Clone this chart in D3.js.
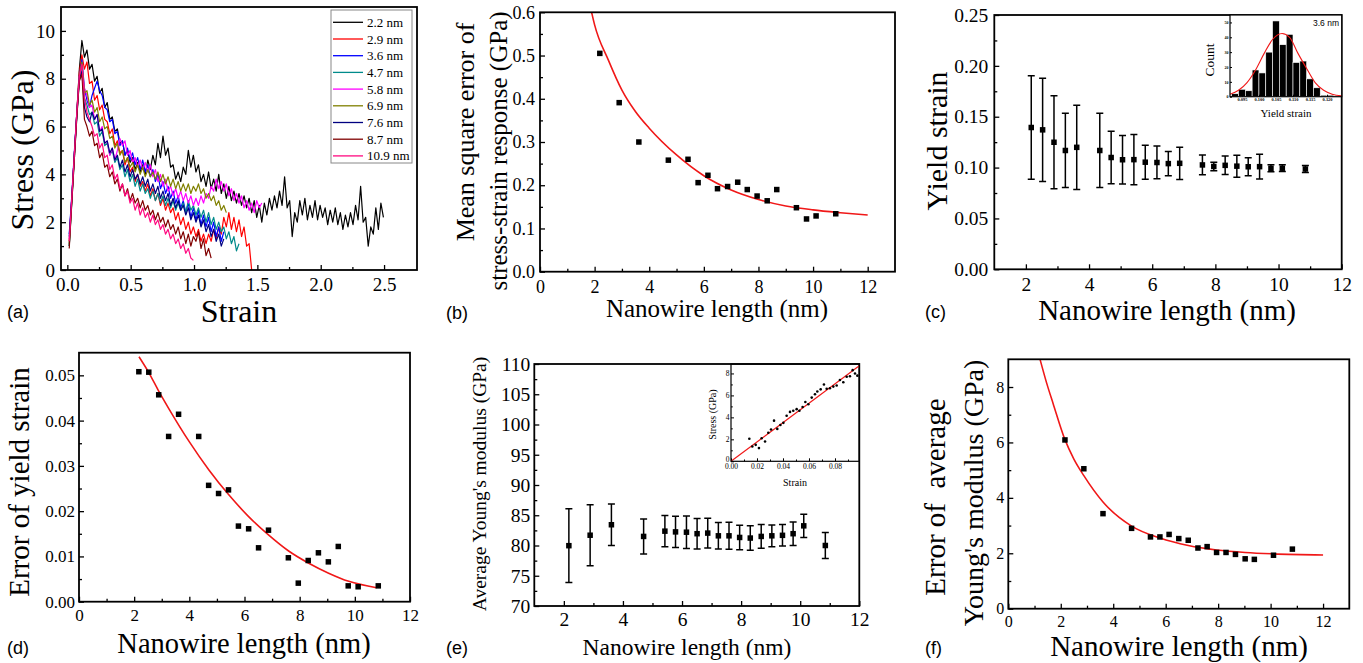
<!DOCTYPE html>
<html><head><meta charset="utf-8">
<script src="https://cdn.jsdelivr.net/npm/d3@7"></script>
<style>body{margin:0;background:#fff} text{font-family:"Liberation Serif","DejaVu Serif",serif}</style></head>
<body>
<script>
// ---------------- DATA ----------------
// (a) stress-strain curves, stress (GPa) sampled every strainStep from strainStart
const strainStart = 0.015, strainStep = 0.02;
const curveLabels = ["2.2 nm","2.9 nm","3.6 nm","4.7 nm","5.8 nm","6.9 nm","7.6 nm","8.7 nm","10.9 nm"];
const curveColors = ["#000000","#ff0000","#0000ff","#008b8b","#ff00ff","#808000","#000080","#800000","#ff0a80"];
const stress22 = [1.0,2.9,4.8,6.6,8.4,9.6,8.9,9.2,8.4,8.6,7.9,8.1,7.4,7.6,6.8,7.0,6.3,6.4,5.8,5.9,5.3,5.4,4.8,5.0,4.5,4.7,4.2,4.5,4.1,4.4,4.0,4.6,4.2,4.8,4.4,5.3,4.7,5.6,4.8,5.1,4.3,4.4,3.8,4.1,3.7,4.3,4.0,5.0,4.3,4.8,4.1,4.4,3.7,4.0,3.5,4.1,3.4,3.8,3.3,4.0,3.2,3.6,3.0,3.5,2.9,3.3,2.8,3.2,2.7,3.1,2.6,3.0,2.4,2.9,2.2,2.7,2.0,2.8,2.3,3.0,2.5,3.1,2.6,3.3,2.7,3.9,2.6,2.9,1.4,2.4,2.0,2.9,2.3,3.0,2.1,2.7,2.2,2.9,2.1,2.7,2.2,2.6,1.9,2.5,2.0,2.6,1.9,2.4,1.7,2.3,1.8,2.4,1.9,2.7,2.1,3.5,2.0,2.2,1.0,1.8,1.5,2.6,1.7,2.8,2.2];
const stress29 = [1.2,3.0,4.8,6.6,8.3,9.0,8.4,8.7,7.8,7.9,7.1,7.3,6.7,6.9,6.3,6.2,5.7,5.9,5.2,5.4,4.9,5.0,4.4,4.7,4.1,4.3,3.7,4.0,3.5,3.7,3.3,3.6,3.1,3.4,2.9,3.2,2.7,3.0,2.5,2.8,2.4,2.6,2.1,2.4,1.9,2.2,1.7,2.0,1.5,1.8,1.4,1.7,1.2,1.5,1.1,1.5,1.2,1.7,1.3,1.8,1.5,2.2,1.8,2.4,1.7,2.2,1.6,2.1,1.4,1.8,1.0,1.1,0.0];
const stress36 = [1.5,3.1,4.9,6.6,8.1,8.8,7.6,7.1,6.8,7.3,7.6,7.9,7.5,7.3,6.8,6.7,6.2,6.3,5.7,5.8,5.2,5.4,4.8,5.1,4.6,4.9,4.4,4.7,4.2,4.6,4.1,4.4,3.9,4.2,3.7,4.0,3.4,3.7,3.2,3.5,3.0,3.3,2.8,3.1,2.6,2.9,2.4,2.8,2.2,2.6,2.1,2.5,1.9,2.3,1.8,2.2,1.6,2.0,1.4,1.8,1.2,1.6];
const stress47 = [1.0,2.8,4.6,6.4,8.0,8.5,7.2,6.9,6.5,6.6,6.1,6.2,5.6,5.8,5.2,5.3,4.8,5.0,4.5,4.7,4.2,4.4,3.9,4.2,3.7,4.0,3.5,3.8,3.3,3.6,3.2,3.4,3.0,3.3,2.9,3.2,2.8,3.1,2.7,3.0,2.6,2.9,2.5,2.8,2.5,2.8,2.4,2.9,2.5,2.7,2.3,2.6,2.2,2.5,2.0,2.4,1.9,2.2,1.7,2.0,1.6,1.8,1.3,1.6,1.1,1.4,0.8,1.1];
const stress58 = [1.3,3.0,4.7,6.5,8.1,8.6,7.6,7.3,6.8,6.9,6.3,6.5,5.8,6.0,5.3,5.4,4.8,5.1,4.6,5.0,5.5,5.2,5.4,4.8,5.0,4.5,4.7,4.3,4.6,4.2,4.5,4.1,4.4,3.9,4.2,3.7,4.0,3.5,3.8,3.3,3.5,3.1,3.4,3.0,3.3,2.9,3.2,2.8,3.1,2.7,3.0,2.7,3.1,2.8,3.2,3.0,3.5,3.3,3.8,3.4,3.7,3.3,3.6,3.1,3.4,2.9,3.2,2.8,3.1,2.6,2.9,2.5,2.8,2.4,2.9,2.6,2.8];
const stress69 = [1.1,2.9,4.7,6.5,8.1,8.7,7.4,7.5,6.9,7.1,6.6,6.8,6.2,6.4,5.9,6.0,5.5,5.6,5.1,5.3,4.8,5.0,4.5,4.7,4.3,4.5,4.1,4.4,4.0,4.3,3.9,4.2,3.9,4.1,3.8,4.1,3.7,4.0,3.6,3.9,3.5,3.8,3.4,3.7,3.3,3.6,3.3,3.6,3.2,3.5,3.3,3.6,3.2,3.4,3.0,3.2,2.9,3.1,2.7,2.9,2.5,2.7,2.4];
const stress76 = [1.4,3.0,4.8,6.5,8.0,8.3,6.8,6.4,6.2,6.6,6.3,6.5,5.8,5.9,5.3,5.4,4.9,5.1,4.6,4.8,4.3,4.6,4.1,4.4,3.9,4.2,3.8,4.0,3.6,3.9,3.5,3.8,3.3,3.6,3.2,3.5,3.0,3.3,2.9,3.2,2.7,3.0,2.6,2.9,2.5,2.7,2.3,2.6,2.1,2.4,2.0,2.3,1.8,2.1,1.6,1.9,1.4,1.7,1.2,1.5,1.0,1.3];
const stress87 = [0.9,2.8,4.6,6.4,7.9,8.2,6.3,6.0,5.6,5.8,5.2,5.3,4.7,4.9,4.3,4.4,3.9,4.1,3.6,3.8,3.3,3.6,3.1,3.4,2.9,3.2,2.8,3.0,2.6,2.9,2.5,2.7,2.3,2.5,2.1,2.4,2.0,2.2,1.8,2.1,1.7,1.9,1.5,1.8,1.3,1.6,1.1,1.5,1.0,1.4,1.2,1.6,0.9,1.3,0.6,0.9,0.5];
const stress109 = [1.2,3.0,4.8,6.6,8.1,8.6,7.2,6.6,6.3,6.0,5.6,5.7,5.1,5.3,4.7,4.8,4.2,4.4,3.8,4.0,3.4,3.6,3.1,3.3,2.8,3.0,2.5,2.8,2.3,2.6,2.2,2.4,2.0,2.3,1.9,2.1,1.7,1.9,1.5,1.7,1.3,1.5,1.1,1.3,0.9,1.1,0.7,0.9,0.5,0.4];
const stressSeries = [stress22,stress29,stress36,stress47,stress58,stress69,stress76,stress87,stress109];

// (b) mean square error of stress-strain response
const bLen = [2.19,2.90,3.62,4.70,5.42,5.79,6.15,6.50,6.87,7.24,7.59,7.95,8.32,8.67,9.39,9.76,10.11,10.83];
const bMSE = [0.505,0.391,0.300,0.258,0.260,0.206,0.223,0.192,0.197,0.207,0.190,0.175,0.164,0.190,0.148,0.122,0.129,0.134];
const bFitLen = [1.89,2,2.5,3,3.5,4,5,6,7,8,9,10,11,12];
const bFitVal = [0.600,0.571,0.490,0.420,0.370,0.332,0.270,0.222,0.189,0.167,0.152,0.143,0.1365,0.131];

// (c)/(d) yield strain and its error
const cdLen = [2.17,2.53,2.89,3.25,3.61,4.34,4.70,5.06,5.42,5.78,6.15,6.51,6.87,7.59,7.95,8.31,8.68,9.04,9.40,9.76,10.12,10.85];
const yieldStrain = [0.1394,0.1371,0.1249,0.1168,0.1199,0.1168,0.1099,0.1077,0.1078,0.1053,0.1050,0.1039,0.1042,0.1026,0.1011,0.1022,0.1014,0.1008,0.1009,0.0993,0.0994,0.0986];
const yieldErr = [0.0508,0.0507,0.0457,0.0365,0.0414,0.0365,0.0257,0.0239,0.0247,0.0167,0.0161,0.0119,0.0158,0.0097,0.0041,0.0091,0.0108,0.0088,0.0122,0.0035,0.0033,0.0035];
const dFitLen = [2.175,2.54,2.9,3.26,3.99,4.71,5.43,6.15,6.88,7.6,8.33,9.05,9.78,10.79];
const dFitVal = [0.0541,0.0505,0.0464,0.0426,0.0354,0.0291,0.0236,0.0188,0.0147,0.0112,0.0085,0.0063,0.0045,0.0031];

// (c) inset histogram (3.6 nm)
const histCenters = [0.093,0.095,0.097,0.099,0.101,0.103,0.105,0.107,0.109,0.111,0.113,0.115,0.117,0.119,0.121];
const histCounts = [2,5,4,18,16,30,51,35,42,23,24,12,6,1,1];
const histFitX = [0.0915,0.094,0.0965,0.099,0.1015,0.104,0.1068,0.109,0.1115,0.114,0.1165,0.119,0.1215,0.1243];
const histFitY = [1.7,4.3,9.5,18,29,38.5,42.5,40,29,19,9.5,4.3,1.7,0.6];
const histXTicks = [0.095,0.100,0.105,0.110,0.115,0.120];
const histYTicks = [0,10,20,30,40,50];

// (e) average Young's modulus
const eLen = [2.17,2.89,3.61,4.70,5.42,5.78,6.15,6.51,6.87,7.23,7.59,7.95,8.31,8.68,9.04,9.40,9.76,10.12,10.85];
const eMod = [79.97,81.7,83.43,81.5,82.37,82.25,82.2,81.95,82.05,81.6,81.6,81.33,81.23,81.5,81.6,81.68,81.95,83.25,80.0];
const eErr = [6.09,5.05,3.43,2.90,2.59,2.59,2.68,2.53,2.47,2.19,2.24,2.03,2.03,1.96,1.80,1.78,1.95,1.93,2.15];
// (e) inset elastic stress-strain
const insStrain = [0.0141,0.0164,0.0190,0.0215,0.0236,0.0262,0.0287,0.0308,0.0331,0.0356,0.0380,0.0403,0.0428,0.0454,0.0479,0.0505,0.0526,0.0551,0.0572,0.0595,0.0621,0.0646,0.0664,0.0690,0.0715,0.0736,0.0761,0.0787,0.0813,0.0838,0.0864,0.0890,0.0915,0.0936,0.0954,0.0972];
const insStress = [2.05,1.35,1.5,1.2,2.1,1.8,2.6,2.9,3.7,2.95,3.3,3.5,4.15,4.5,4.6,4.75,4.6,4.95,5.4,5.2,5.8,6.1,6.35,6.55,7.0,6.6,6.65,6.8,6.9,7.4,7.2,7.7,7.75,8.3,8.0,7.8];
const insFitStrain = [0, 0.0987];
const insFitStress = [0, 8.7];

// (f) error of average Young's modulus
const fLen = [2.16,2.88,3.61,4.70,5.42,5.78,6.13,6.50,6.86,7.23,7.58,7.94,8.30,8.66,9.03,9.38,10.11,10.83];
const fErr = [6.09,5.05,3.43,2.90,2.59,2.59,2.68,2.53,2.47,2.19,2.24,2.03,2.03,1.96,1.80,1.78,1.93,2.15];
const fFitLen = [1.21,1.46,1.71,2.16,2.5,2.88,3.61,4.7,5.78,6.86,7.94,9.03,10.1,12];
const fFitVal = [9.0,8.15,7.4,6.1,5.4,4.8,3.85,2.98,2.55,2.28,2.12,2.03,1.98,1.94];

// ---------------- DRAWING ----------------
const SERIF = '"Liberation Serif","DejaVu Serif",serif';
const SANS = '"Liberation Sans","DejaVu Sans",Arial,sans-serif';
const RED = "#f01818";
const svg = d3.select("body").append("svg").attr("width",1363).attr("height",663);
svg.append("rect").attr("width",1363).attr("height",663).attr("fill","#fff");
let clipN = 0;

function setFont(sel, ff, fs){
  sel.attr("font-family", null).attr("font-size", null)
     .style("font-family", ff).style("font-size", fs + "px");
  sel.selectAll("text").style("font-family", ff).style("font-size", fs + "px");
}
function panel(o){
  const x = d3.scaleLinear().domain(o.xd).range([o.L,o.R]);
  const y = d3.scaleLinear().domain(o.yd).range([o.B,o.T]);
  const g = svg.append("g");
  const id = "clip" + (++clipN);
  svg.append("clipPath").attr("id",id).append("rect")
    .attr("x",o.L).attr("y",o.T).attr("width",o.R-o.L).attr("height",o.B-o.T);
  const tl = o.tl || 5, tm = o.tm || 3, sw = o.sw || 1.3;
  const styleAxis = a => {
    a.select(".domain").remove();
    setFont(a, SERIF, o.fs);
    a.selectAll("line").attr("stroke-width", sw);
  };
  const xa = g.append("g").attr("transform",`translate(0,${o.B})`)
    .call(d3.axisBottom(x).tickValues(o.xt).tickSize(-tl).tickPadding(o.xp).tickFormat(o.xf));
  styleAxis(xa);
  if (o.xm) { const m = g.append("g").attr("transform",`translate(0,${o.B})`)
    .call(d3.axisBottom(x).tickValues(o.xm).tickSize(-tm).tickFormat(()=>"")); styleAxis(m); }
  const ya = g.append("g").attr("transform",`translate(${o.L},0)`)
    .call(d3.axisLeft(y).tickValues(o.yt).tickSize(-tl).tickPadding(o.yp).tickFormat(o.yf));
  styleAxis(ya);
  if (o.ym) { const m = g.append("g").attr("transform",`translate(${o.L},0)`)
    .call(d3.axisLeft(y).tickValues(o.ym).tickSize(-tm).tickFormat(()=>"")); styleAxis(m); }
  const plot = g.append("g").attr("clip-path",`url(#${id})`);
  const top = g.append("g");
  top.append("rect").attr("x",o.L).attr("y",o.T).attr("width",o.R-o.L).attr("height",o.B-o.T)
    .attr("fill","none").attr("stroke","#000").attr("stroke-width",o.fw || 1.8);
  return {x,y,g,plot,top};
}
function vtext(x, y, txt, fs){
  svg.append("text").attr("transform",`translate(${x},${y}) rotate(-90)`)
    .attr("text-anchor","middle").style("font-family",SERIF).style("font-size",fs+"px")
    .style("white-space","pre").text(txt);
}
function htext(x, y, txt, fs, ff, anchor){
  return svg.append("text").attr("x",x).attr("y",y).attr("text-anchor",anchor||"middle")
    .style("font-family",ff||SERIF).style("font-size",fs+"px").style("white-space","pre").text(txt);
}
function squares(p, xs, ys, s){
  p.plot.selectAll(null).data(xs).enter().append("rect")
    .attr("x",(d)=>p.x(d)-s/2).attr("y",(d,i)=>p.y(ys[i])-s/2)
    .attr("width",s).attr("height",s).attr("fill","#000");
}
function errbars(p, xs, ys, es, cap){
  const gg = p.plot.append("g").attr("stroke","#000").attr("stroke-width",1.5);
  xs.forEach((d,i)=>{
    const px = p.x(d), hi = p.y(ys[i]+es[i]), lo = p.y(ys[i]-es[i]);
    gg.append("line").attr("x1",px).attr("x2",px).attr("y1",hi).attr("y2",lo);
    gg.append("line").attr("x1",px-cap/2).attr("x2",px+cap/2).attr("y1",hi).attr("y2",hi);
    gg.append("line").attr("x1",px-cap/2).attr("x2",px+cap/2).attr("y1",lo).attr("y2",lo);
  });
}
function fitLine(p, xs, ys, w){
  p.plot.append("path").datum(xs.map((d,i)=>[d,ys[i]]))
    .attr("fill","none").attr("stroke",RED).attr("stroke-width",w||1.6)
    .attr("d", d3.line().x(d=>p.x(d[0])).y(d=>p.y(d[1])).curve(d3.curveMonotoneX));
}

// ---- (a)
const pa = panel({L:61,R:417,T:7,B:270,xd:[-0.05,2.76],yd:[0,11],
  xt:[0,0.5,1,1.5,2,2.5], xm:[0.25,0.75,1.25,1.75,2.25], xf:d3.format(".1f"), xp:7.5,
  yt:[0,2,4,6,8,10], ym:[1,3,5,7,9], yf:d3.format("d"), yp:6, fs:19});
stressSeries.forEach((s,k)=>{
  pa.plot.append("path").datum(s).attr("fill","none").attr("stroke",curveColors[k])
    .attr("stroke-width",1.2).attr("stroke-linejoin","round")
    .attr("d", d3.line().x((d,i)=>pa.x(strainStart + strainStep*i)).y(d=>pa.y(d)));
});
const leg = pa.top.append("g");
leg.append("rect").attr("x",331).attr("y",10).attr("width",81).attr("height",153)
  .attr("fill","#fff").attr("stroke","#888").attr("stroke-width",1);
curveLabels.forEach((t,k)=>{
  const yy = 22.3 + 16.7*k;
  leg.append("line").attr("x1",333).attr("x2",363).attr("y1",yy).attr("y2",yy)
    .attr("stroke",curveColors[k]).attr("stroke-width",1.3);
  leg.append("text").attr("x",367).attr("y",yy+4.5).style("font-family",SERIF)
    .style("font-size","13px").text(t);
});
vtext(33,150,"Stress (GPa)",32);
htext(239,322,"Strain",32);
htext(7,318,"(a)",18,SANS,"start");

// ---- (b)
const pb = panel({L:540,R:895,T:12.3,B:271.7,xd:[0,13],yd:[0,0.6],
  xt:[0,2,4,6,8,10,12], xm:[1,3,5,7,9,11], xf:d3.format("d"), xp:8.5,
  yt:[0,0.1,0.2,0.3,0.4,0.5,0.6], ym:[0.05,0.15,0.25,0.35,0.45,0.55], yf:d3.format(".1f"), yp:5, fs:18});
fitLine(pb, bFitLen, bFitVal, 1.6);
squares(pb, bLen, bMSE, 5.5);
vtext(474,132,"Mean square error of",26);
vtext(507,151,"stress-strain response (GPa)",25);
htext(717,317,"Nanowire length (nm)",25);
htext(446,319,"(b)",18,SANS,"start");

// ---- (c)
const pc = panel({L:994.3,R:1341.7,T:15,B:269.3,xd:[1,12],yd:[0,0.25],
  xt:[2,4,6,8,10,12], xm:[3,5,7,9,11], xf:d3.format("d"), xp:7.5,
  yt:[0,0.05,0.1,0.15,0.2,0.25], ym:[0.025,0.075,0.125,0.175,0.225], yf:d3.format(".2f"), yp:6, fs:19.5});
errbars(pc, cdLen, yieldStrain, yieldErr, 7);
squares(pc, cdLen, yieldStrain, 5.5);
vtext(947,141,"Yield strain",30);
htext(1167,320,"Nanowire length (nm)",29);
htext(925,318,"(c)",18,SANS,"start");
// inset histogram
{
  const L=1230,R=1341.7,T=15,B=96.7;
  const ix = d3.scaleLinear().domain([0.0915,0.1243]).range([L,R]);
  const iy = d3.scaleLinear().domain([0,55]).range([B,T]);
  const gi = pc.top.append("g");
  gi.append("rect").attr("x",L).attr("y",T).attr("width",R-L).attr("height",B-T).attr("fill","#fff");
  const bw = ix(0.002)-ix(0);
  gi.selectAll(null).data(histCounts).enter().append("rect")
    .attr("x",(d,i)=>ix(histCenters[i])-bw/2).attr("y",d=>iy(d))
    .attr("width",bw).attr("height",d=>B-iy(d)).attr("fill","#000")
    .attr("stroke","#fff").attr("stroke-width",0.6);
  gi.append("path").datum(histFitX.map((d,i)=>[d,histFitY[i]])).attr("fill","none")
    .attr("stroke",RED).attr("stroke-width",1.1)
    .attr("d", d3.line().x(d=>ix(d[0])).y(d=>iy(d[1])).curve(d3.curveMonotoneX));
  const xa = gi.append("g").attr("transform",`translate(0,${B})`)
    .call(d3.axisBottom(ix).tickValues(histXTicks).tickSize(-2).tickPadding(1.5).tickFormat(d3.format(".3f")));
  xa.select(".domain").remove(); setFont(xa, SERIF, 4.4); xa.selectAll("text").style("font-weight","bold");
  const ya = gi.append("g").attr("transform",`translate(${L},0)`)
    .call(d3.axisLeft(iy).tickValues(histYTicks).tickSize(-2).tickPadding(1.5).tickFormat(d3.format("d")));
  ya.select(".domain").remove(); setFont(ya, SERIF, 4); ya.selectAll("text").style("font-weight","bold");
  gi.append("rect").attr("x",L).attr("y",T).attr("width",R-L).attr("height",B-T)
    .attr("fill","none").attr("stroke","#000").attr("stroke-width",1.2);
  gi.append("text").attr("x",1339).attr("y",26).attr("text-anchor","end")
    .style("font-family",SANS).style("font-size","8.5px").text("3.6 nm");
  svg.append("text").attr("transform","translate(1214,60) rotate(-90)").attr("text-anchor","middle")
    .style("font-family",SERIF).style("font-size","13.5px").text("Count");
  htext(1286,117,"Yield strain",11);
}

// ---- (d)
const pd = panel({L:79,R:410,T:352.7,B:601.7,xd:[0,12],yd:[0,0.055],
  xt:[0,2,4,6,8,10,12], xm:[1,3,5,7,9,11], xf:d3.format("d"), xp:7.2,
  yt:[0,0.01,0.02,0.03,0.04,0.05], ym:[0.005,0.015,0.025,0.035,0.045], yf:d3.format(".2f"), yp:4, fs:17});
fitLine(pd, dFitLen, dFitVal, 1.6);
squares(pd, cdLen, yieldErr, 5.5);
vtext(29,482,"Error of yield strain",29);
htext(244,653,"Nanowire length (nm)",28.5);
htext(7,654,"(d)",18,SANS,"start");

// ---- (e)
const pe = panel({L:534.3,R:859.3,T:364,B:606,xd:[1,12],yd:[70,110],
  xt:[2,4,6,8,10,12], xm:[3,5,7,9,11], xf:d3.format("d"), xp:6.5,
  yt:[70,75,80,85,90,95,100,105,110], ym:[72.5,77.5,82.5,87.5,92.5,97.5,102.5,107.5], yf:d3.format("d"), yp:4, fs:19.5});
errbars(pe, eLen, eMod, eErr, 7);
squares(pe, eLen, eMod, 5.5);
vtext(486,484,"Average Young's modulus (GPa)",19.5);
htext(687,655,"Nanowire length (nm)",23.5);
htext(446,654,"(e)",18,SANS,"start");
// inset
{
  const L=731,R=859.3,T=364,B=461.3;
  const ix = d3.scaleLinear().domain([0,0.0987]).range([L,R]);
  const iy = d3.scaleLinear().domain([0,8.86]).range([B,T]);
  const gi = pe.top.append("g");
  const xa = gi.append("g").attr("transform",`translate(0,${B})`)
    .call(d3.axisBottom(ix).tickValues([0,0.02,0.04,0.06,0.08]).tickSize(-3).tickPadding(2.5).tickFormat(d3.format(".2f")));
  xa.select(".domain").remove(); setFont(xa, SERIF, 7.5);
  const xm = gi.append("g").attr("transform",`translate(0,${B})`)
    .call(d3.axisBottom(ix).tickValues([0.01,0.03,0.05,0.07,0.09]).tickSize(-1.8).tickFormat(()=>""));
  xm.select(".domain").remove();
  const ya = gi.append("g").attr("transform",`translate(${L},0)`)
    .call(d3.axisLeft(iy).tickValues([0,2,4,6,8]).tickSize(-3).tickPadding(1.5).tickFormat(d3.format("d")));
  ya.select(".domain").remove(); setFont(ya, SERIF, 7.5);
  ya.selectAll(".tick text").filter(d=>d===0).attr("dy","0.05em");
  const ym = gi.append("g").attr("transform",`translate(${L},0)`)
    .call(d3.axisLeft(iy).tickValues([1,3,5,7]).tickSize(-1.8).tickFormat(()=>""));
  ym.select(".domain").remove();
  gi.append("path").datum(insFitStrain.map((d,i)=>[d,insFitStress[i]])).attr("fill","none")
    .attr("stroke",RED).attr("stroke-width",1.2)
    .attr("d", d3.line().x(d=>ix(d[0])).y(d=>iy(d[1])));
  gi.selectAll(null).data(insStrain).enter().append("circle")
    .attr("cx",d=>ix(d)).attr("cy",(d,i)=>iy(insStress[i])).attr("r",1.3).attr("fill","#000");
  gi.append("rect").attr("x",L).attr("y",T).attr("width",R-L).attr("height",B-T)
    .attr("fill","none").attr("stroke","#000").attr("stroke-width",1.2);
  svg.append("text").attr("transform","translate(716,414.5) rotate(-90)").attr("text-anchor","middle")
    .style("font-family",SERIF).style("font-size","10px").text("Stress (GPa)");
  htext(795,486,"Strain",10);
}

// ---- (f)
const pf = panel({L:1008.3,R:1349.3,T:359.3,B:608.7,xd:[0,13],yd:[0,9],
  xt:[0,2,4,6,8,10,12], xm:[1,3,5,7,9,11], xf:d3.format("d"), xp:6.5,
  yt:[0,2,4,6,8], ym:[1,3,5,7], yf:d3.format("d"), yp:4, fs:16});
fitLine(pf, fFitLen, fFitVal, 1.6);
squares(pf, fLen, fErr, 5.5);
vtext(945,497,"Error of  average",29);
vtext(983,493,"Young's modulus (GPa)",28);
htext(1179,656,"Nanowire length (nm)",29);
htext(925,654,"(f)",18,SANS,"start");
</script>
</body></html>
